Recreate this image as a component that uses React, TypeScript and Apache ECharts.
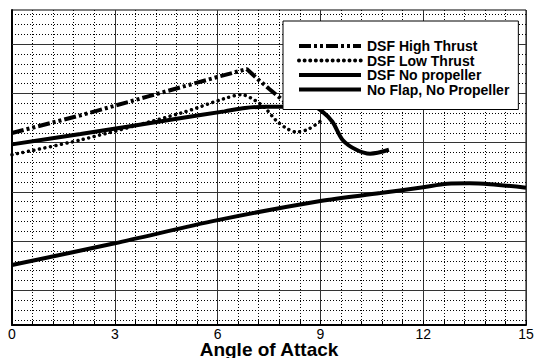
import React, { useEffect, useRef } from "react";
import * as echarts from "echarts";

const FONT = "'Liberation Sans', Arial, Helvetica, sans-serif";

// Angle of attack (deg) and lift values
const highAoA = [0, 2, 4, 6, 6.85, 7.2, 7.5, 7.95];
const highCL = [1.6, 1.78, 1.975, 2.17, 2.25, 2.14, 2.05, 1.92];

const lowAoA = [0, 2, 4.9, 6.2, 6.7, 7.1, 7.4, 7.7, 8.0, 8.3, 8.65, 9.0];
const lowCL = [1.38, 1.53, 1.8, 1.95, 1.99, 1.93, 1.85, 1.73, 1.65, 1.61, 1.64, 1.72];

const noPropAoA = [0, 2, 4.9, 6.2, 6.8, 7.4, 8.8, 9.05, 9.35, 9.65, 10.05, 10.45, 11.0];
const noPropCL = [1.485, 1.59, 1.75, 1.82, 1.855, 1.867, 1.867, 1.82, 1.715, 1.53, 1.43, 1.39, 1.43];

const noFlapAoA = [0, 3, 6, 9, 10.75, 12, 12.7, 13.35, 13.95, 15];
const noFlapCL = [0.26, 0.48, 0.715, 0.91, 0.99, 1.05, 1.085, 1.09, 1.08, 1.045];

const seriesNames = ["DSF High Thrust", "DSF Low Thrust", "DSF No propeller", "No Flap, No Propeller"];

// Horizontal grid values
const majorGridCL = [0, 0.5, 1.0, 1.5, 2.0, 2.5];
const minorGridCL = [
  -0.3, -0.2, -0.1, 0.1, 0.2, 0.3, 0.4, 0.6, 0.7, 0.8, 0.9, 1.1, 1.2, 1.3, 1.4,
  1.6, 1.7, 1.8, 1.9, 2.1, 2.2, 2.3, 2.4, 2.6, 2.7, 2.8,
];
const AOA_MIN = 0;
const AOA_MAX = 15;

const zip = (xs: number[], ys: number[]) => xs.map((x, i) => [x, ys[i]]);

export default function App() {
  const ref = useRef<HTMLDivElement>(null);
  useEffect(() => {
    if (!ref.current) return;
    const chart = echarts.init(ref.current, undefined, { renderer: "svg" });
    const lineBase = {
      type: "line",
      showSymbol: false,
      symbol: "none",
      z: 3,
      itemStyle: { color: "#000" },
    };
    const gridSeries = (name: string, values: number[], style: any, z: number) => ({
      type: "custom",
      name,
      z,
      silent: true,
      data: values.map((v) => [AOA_MIN, v]),
      renderItem: (_params: any, api: any) => {
        const v = api.value(1);
        const p1 = api.coord([AOA_MIN, v]);
        const p2 = api.coord([AOA_MAX, v]);
        const y = Math.round(p1[1] - 0.5) + 0.5;
        return {
          type: "line",
          shape: { x1: p1[0], y1: y, x2: p2[0], y2: y },
          style,
        };
      },
    });
    chart.setOption({
      animation: false,
      backgroundColor: "#fff",
      grid: {
        left: 12,
        right: 11,
        top: 10,
        bottom: 33,
        show: true,
        borderColor: "#000",
        borderWidth: 1,
        backgroundColor: "transparent",
        outerBoundsMode: "none",
        containLabel: false,
      },
      legend: {
        orient: "vertical",
        left: 283,
        top: 21,
        padding: [18, 9, 13, 14],
        itemWidth: 62,
        itemHeight: 10,
        itemGap: 0.5,
        backgroundColor: "#fff",
        borderColor: "#000",
        borderWidth: 1,
        lineStyle: { width: 4 },
        itemStyle: { opacity: 0 },
        textStyle: {
          fontFamily: FONT,
          fontWeight: "bold",
          fontSize: 14,
          lineHeight: 13,
          color: "#000",
          padding: [0, 0, 0, 1],
        },
        data: seriesNames,
      },
      xAxis: {
        type: "value",
        min: AOA_MIN,
        max: AOA_MAX,
        interval: 3,
        name: "Angle of Attack",
        nameLocation: "middle",
        nameGap: 24,
        nameMoveOverlap: false,
        nameTextStyle: {
          fontFamily: FONT,
          fontWeight: "bold",
          fontSize: 19,
          lineHeight: 15,
          color: "#000",
          verticalAlign: "middle",
        },
        axisLine: { show: true, onZero: false, lineStyle: { color: "#000", width: 2 } },
        axisTick: { show: true, inside: true, length: 5, lineStyle: { color: "#000" } },
        minorTick: { show: true, splitNumber: 5, length: 4, lineStyle: { color: "#000" } },
        axisLabel: { fontFamily: FONT, fontSize: 14, lineHeight: 12, color: "#000", margin: 3 },
        splitLine: { show: true, lineStyle: { color: "#333", width: 1 } },
        minorSplitLine: { show: true, lineStyle: { color: "#000", width: 1, type: [1, 2] } },
      },
      yAxis: {
        type: "value",
        min: -0.35,
        max: 2.85,
        axisLine: { show: true, onZero: false, lineStyle: { color: "#000", width: 2 } },
        axisTick: { show: false },
        axisLabel: { show: false },
        splitLine: { show: false },
      },
      series: [
        gridSeries("minorGrid", minorGridCL, { stroke: "#000", lineWidth: 1, lineDash: [1, 2] }, 1),
        gridSeries("majorGrid", majorGridCL, { stroke: "#333", lineWidth: 1 }, 1),
        {
          ...lineBase,
          name: seriesNames[0],
          data: zip(highAoA, highCL),
          lineStyle: { color: "#000", width: 4, type: [12, 3, 3, 3, 3, 3] },
        },
        {
          ...lineBase,
          name: seriesNames[1],
          data: zip(lowAoA, lowCL),
          smooth: 0.3,
          lineStyle: { color: "#000", width: 3.5, type: [0.01, 5.6], cap: "round" },
        },
        {
          ...lineBase,
          name: seriesNames[2],
          data: zip(noPropAoA, noPropCL),
          smooth: 0.3,
          lineStyle: { color: "#000", width: 4 },
        },
        {
          ...lineBase,
          name: seriesNames[3],
          data: zip(noFlapAoA, noFlapCL),
          smooth: 0.3,
          lineStyle: { color: "#000", width: 4 },
        },
      ],
    });
    return () => chart.dispose();
  }, []);
  return (
    <div
      ref={ref}
      style={{ position: "fixed", left: 0, top: 0, width: 537, height: 358, background: "#fff" }}
    />
  );
}
